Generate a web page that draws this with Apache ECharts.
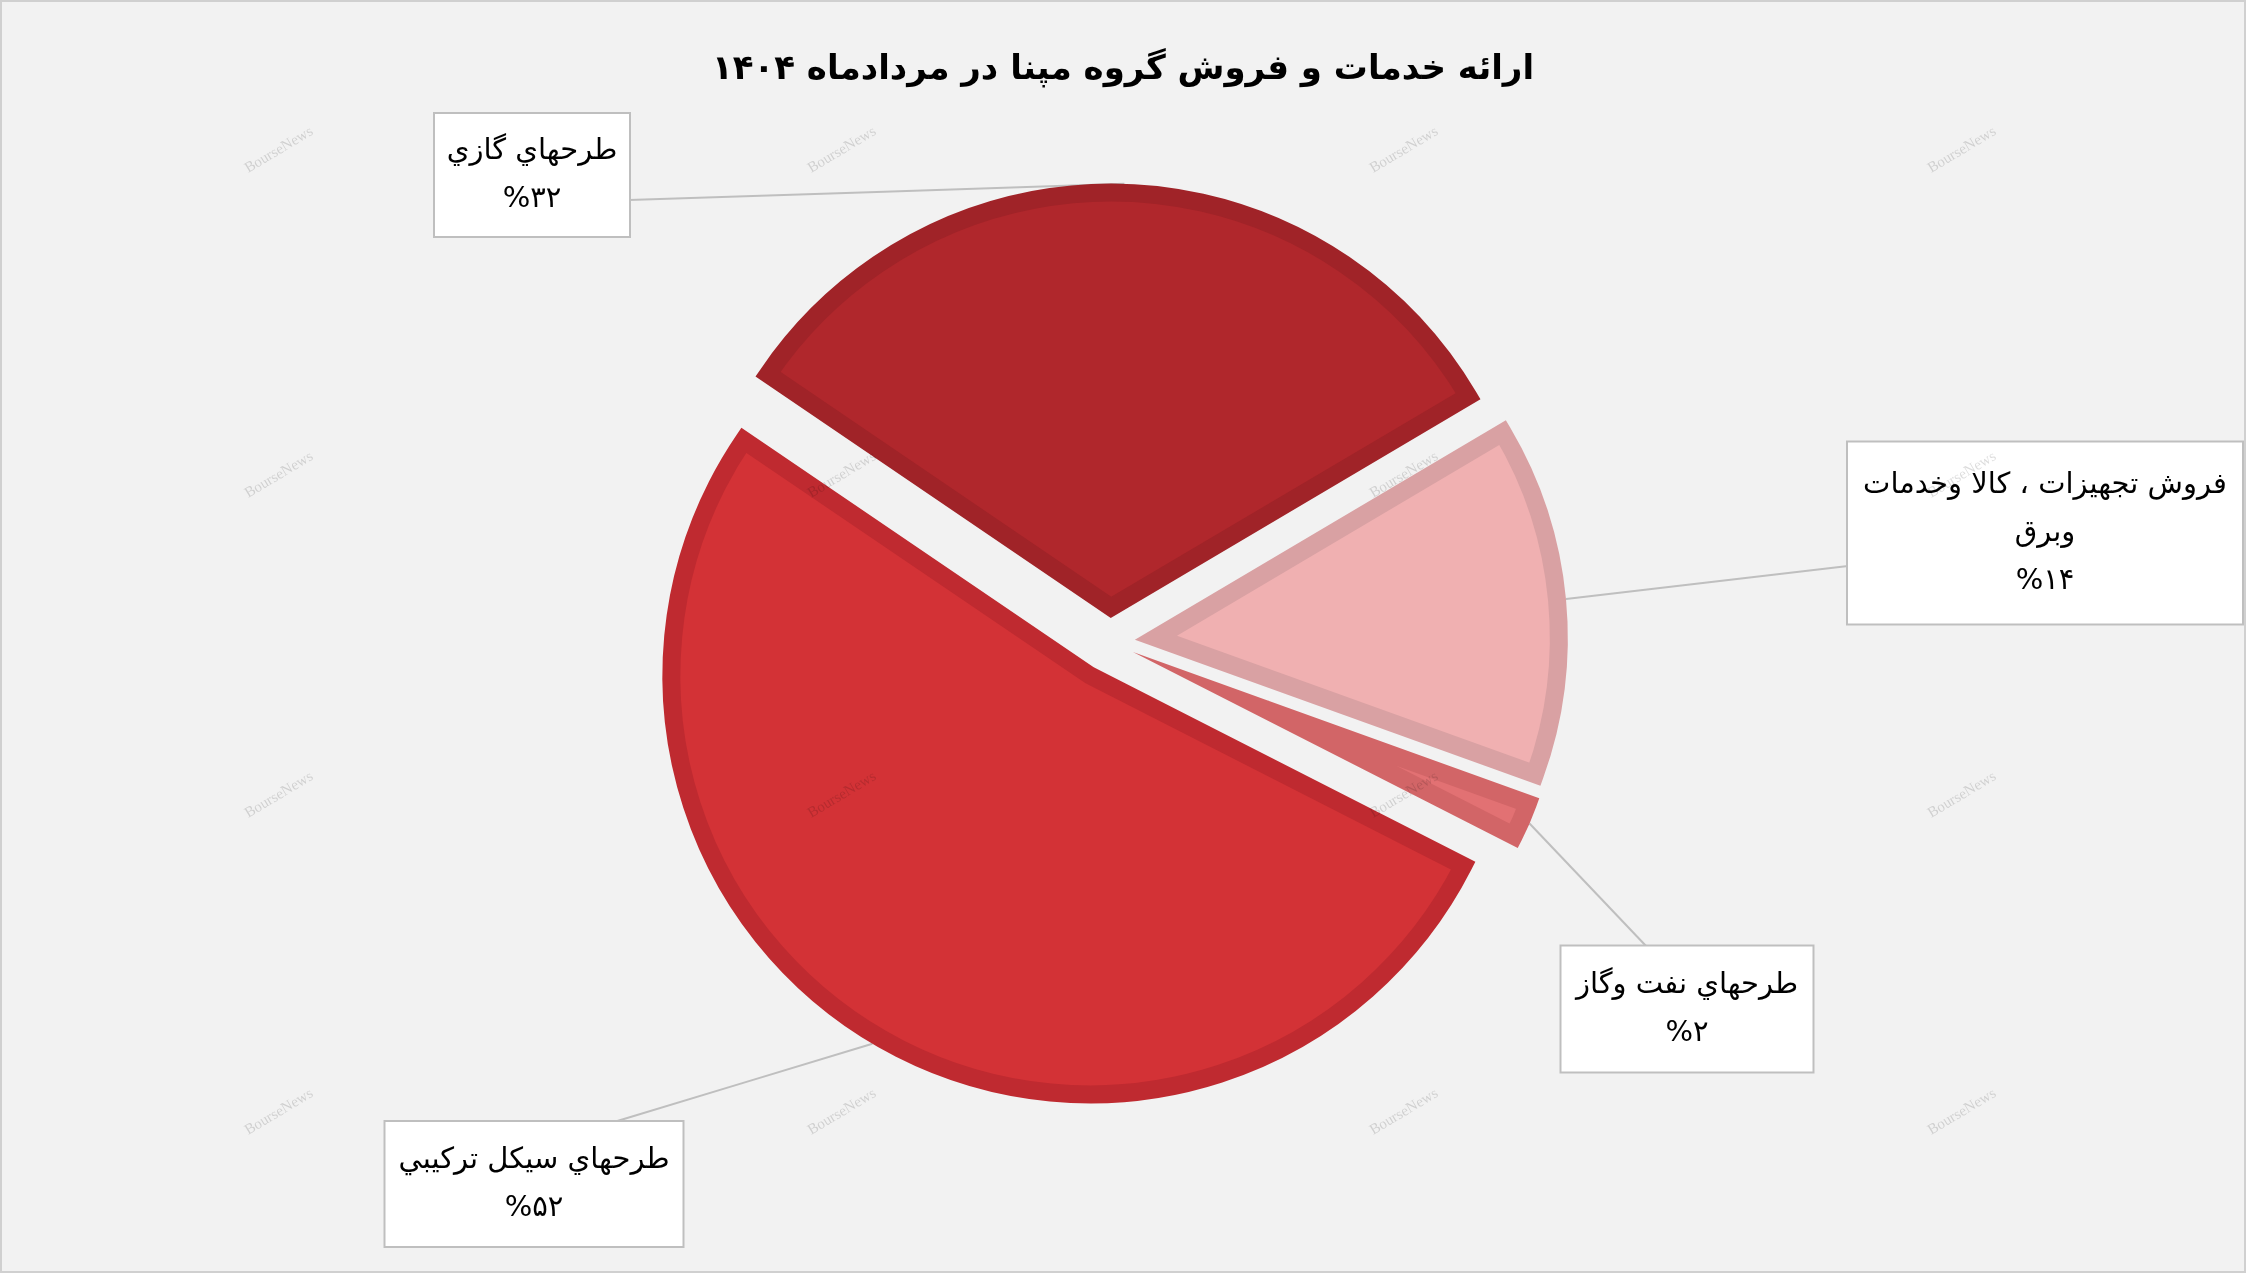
<!DOCTYPE html>
<html><head><meta charset="utf-8">
<script src="https://cdn.jsdelivr.net/npm/echarts@6/dist/echarts.min.js"></script>
<style>html,body{margin:0;padding:0;background:#f2f2f2;}#c{width:2246px;height:1273px;}</style>
</head><body><div id="c"></div>
<script>
// ---- data ----
const chartTitle = 'ارائه خدمات و فروش گروه مپنا در مردادماه ۱۴۰۴';
const categories = ['طرحهاي گازي', 'فروش تجهيزات ، كالا وخدمات\nوبرق', 'طرحهاي نفت وگاز', 'طرحهاي سيكل تركيبي'];
const values = [32, 14, 2, 52];
const watermarkText = 'BourseNews';

// ---- style / layout ----
const fills = ['#b0272c', '#f0b0b1', '#e27173', '#d33236'];
const borders = ['#a02328', '#d9a1a3', '#d26567', '#bf2a30'];
const PIE_CENTER = [1110, 642];
const OUTER_R = 432;
const BORDER_W = 18;
const START_ANGLE = 145.8;
const explode = [24, 25, 25, 30];
const labelBoxes = [[532, 175, 194, 122], [2045, 533, 394, 181], [1687, 1009, 251, 125], [534, 1184, 297, 124]];
// where each callout's pointer meets its box (relative to box centre)
const pointerAttach = [[97, 25], [-197, 33], [-40, -62], [80, -62]];
const wmX = [279, 842, 1404, 1962];
const wmY = [150, 475, 795, 1112];
const FONT = 'DejaVu Sans';
const LABEL_FS = 29;
const LINE_H = 48;

function toFa(n) { return String(n).replace(/\d/g, d => '۰۱۲۳۴۵۶۷۸۹'[d]); }

const chart = echarts.init(document.getElementById('c'), null, {renderer: 'canvas'});
const total = values.reduce((a, b) => a + b, 0);
let acc = 0;
const series = values.map((v, i) => {
  const span = v / total * 360;
  const mid = START_ANGLE - (acc + span / 2);
  acc += span;
  const rad = mid * Math.PI / 180;
  const b = [Math.cos(rad), -Math.sin(rad)];
  const half = span / 2 * Math.PI / 180;
  const s = (BORDER_W / 2) / Math.sin(half);
  const k = (1 + Math.cos(half)) / 2;
  const cx = PIE_CENTER[0] + (explode[i] + s) * b[0];
  const cy = PIE_CENTER[1] + (explode[i] + s) * b[1];
  const r = OUTER_R - BORDER_W / 2 - s * k;
  const anchor = [cx + (r + BORDER_W / 2) * b[0], cy + (r + BORDER_W / 2) * b[1]];
  const box = labelBoxes[i];
  const nLines = categories[i].split('\n').length + 1;
  const padV = Math.max(0, (box[3] - nLines * LINE_H) / 2);
  return {
    type: 'pie',
    z: 2 + i,
    center: [cx, cy],
    radius: [0, r],
    startAngle: START_ANGLE,
    clockwise: true,
    avoidLabelOverlap: false,
    animation: false,
    silent: true,
    emphasis: {disabled: true},
    data: values.map((val, j) => j === i ? {
      name: categories[j], value: val,
      itemStyle: {color: fills[j], borderColor: borders[j], borderWidth: BORDER_W, borderJoin: 'miter', borderMiterLimit: 40},
      label: {
        show: true, position: 'outside',
        formatter: p => p.name + '\n' + '%' + toFa(p.value),
        fontFamily: FONT, fontSize: LABEL_FS, lineHeight: LINE_H, color: '#000',
        backgroundColor: '#ffffff', borderColor: '#bfbfbf', borderWidth: 2,
        width: box[2], align: 'center',
        padding: [padV, 0, padV, 0]
      },
      labelLine: {show: true, length: 10, length2: 4, lineStyle: {color: '#bfbfbf', width: 2}}
    } : {
      name: categories[j], value: val,
      itemStyle: {color: 'transparent', borderWidth: 0},
      label: {show: false}, labelLine: {show: false}
    }),
    labelLayout: function () {
      const e = [box[0] + pointerAttach[i][0], box[1] + pointerAttach[i][1]];
      return {
        x: box[0], y: box[1], align: 'center', verticalAlign: 'middle',
        labelLinePoints: [anchor.slice(), [(anchor[0] + e[0]) / 2, (anchor[1] + e[1]) / 2], e]
      };
    }
  };
});

const graphics = [{
  type: 'rect', z: 100, silent: true,
  shape: {x: 1, y: 1, width: 2244, height: 1271},
  style: {fill: 'none', stroke: '#d0d0d0', lineWidth: 2}
}];
wmY.forEach(y => wmX.forEach(x => {
  graphics.push({
    type: 'text', z: 100, silent: true, x: x, y: y, rotation: 31 * Math.PI / 180,
    style: {text: watermarkText, font: '15px "Liberation Serif"', fill: 'rgba(0,0,0,0.14)', align: 'center', verticalAlign: 'middle'}
  });
}));

chart.setOption({
  backgroundColor: '#f2f2f2',
  animation: false,
  title: {
    text: chartTitle, left: 'center', top: 48,
    textStyle: {fontFamily: FONT, fontSize: 34, fontWeight: 'bold', color: '#000'}
  },
  series: series,
  graphic: graphics
});
</script></body></html>
